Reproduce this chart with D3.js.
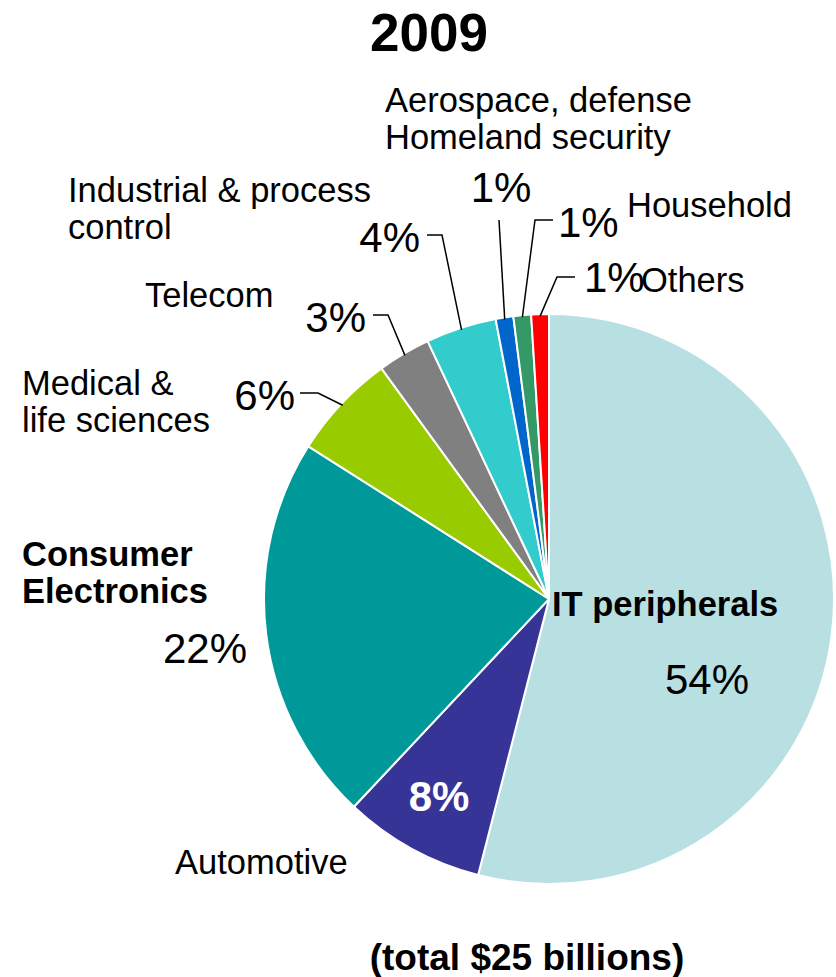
<!DOCTYPE html>
<html>
<head>
<meta charset="utf-8">
<script src="https://cdn.jsdelivr.net/npm/d3@7"></script>
<style>
  html, body { margin: 0; padding: 0; background: #fff; }
  svg { display: block; }
  text { font-family: "Liberation Sans", Arial, sans-serif; fill: #000; }
</style>
</head>
<body>
<svg id="chart" width="836" height="977"></svg>
<script>
// Market segments, clockwise from 12 o'clock
const segments = ["IT peripherals", "Automotive", "Consumer Electronics", "Medical & life sciences",
                  "Telecom", "Industrial & process control", "Aerospace, defense Homeland security",
                  "Household", "Others"];
const shares = [54, 8, 22, 6, 3, 4, 1, 1, 1];
const colors = ["#B8DFE2", "#363497", "#009999", "#99CC00", "#808080", "#33CCCC", "#0066CC", "#339966", "#FF0000"];
const titleText = "2009";
const footerText = "(total $25 billions)";

// Label layout for each segment: name lines, name position, percent position, leader path
const nameLines = [
  ["IT peripherals"], ["Automotive"], ["Consumer", "Electronics"], ["Medical &", "life sciences"],
  ["Telecom"], ["Industrial & process", "control"], ["Aerospace, defense", "Homeland security"],
  ["Household"], ["Others"]
];
const nameBold = [true, false, true, false, false, false, false, false, false];
const namePos = [[552, 616], [175, 874], [22, 566], [22, 395], [145, 307], [68, 202], [385, 112], [627, 217], [641, 292]];
const pctPos = [[707, 694, "middle"], [439, 811, "middle"], [205, 663, "middle"], [295, 410, "end"],
                [366, 332, "end"], [420, 252, "end"], [501, 202, "middle"], [558, 237, "start"], [584, 292, "start"]];
const pctStyle = ["plain", "boldWhite", "plain", "plain", "plain", "plain", "plain", "plain", "plain"];
// Leader: [tickStart, elbow] (null = no leader)
const leaders = [null, null, null,
  [[300, 393], [318, 393]],
  [[373, 315], [388, 315]],
  [[427, 235], [442, 235]],
  [[499, 220], [499, 220]],
  [[553, 220], [535, 220]],
  [[575, 277], [557, 277]]];

const svg = d3.select("#chart");
const cx = 549, cy = 599, R = 285;

const pie = d3.pie().sort(null).value(d => d.v);
const arcs = pie(shares.map((v, i) => ({ v, i })));
const arc = d3.arc().innerRadius(0).outerRadius(R);

const g = svg.append("g").attr("transform", `translate(${cx},${cy})`);
g.selectAll("path.slice")
  .data(arcs)
  .join("path")
  .attr("class", "slice")
  .attr("d", arc)
  .attr("fill", d => colors[d.data.i])
  .attr("stroke", "#fff")
  .attr("stroke-width", 2)
  .attr("stroke-linejoin", "round");

// Leader lines from label ticks to the slice edge at its mid-angle
const line = d3.line();
arcs.forEach((d, i) => {
  const L = leaders[i];
  if (!L) return;
  const mid = (d.startAngle + d.endAngle) / 2;
  const r = R - 2;
  const end = [cx + r * Math.sin(mid), cy - r * Math.cos(mid)];
  svg.append("path")
    .attr("d", line([L[0], L[1], end]))
    .attr("fill", "none")
    .attr("stroke", "#000")
    .attr("stroke-width", 1.5);
});

// Segment names
nameLines.forEach((lines, i) => {
  const t = svg.append("text")
    .attr("x", namePos[i][0])
    .attr("y", namePos[i][1])
    .attr("font-size", 34.5)
    .attr("font-weight", nameBold[i] ? "bold" : "normal");
  lines.forEach((s, k) => {
    t.append("tspan").attr("x", namePos[i][0]).attr("dy", k === 0 ? 0 : 37).text(s);
  });
});

// Percent labels
shares.forEach((v, i) => {
  const bw = pctStyle[i] === "boldWhite";
  svg.append("text")
    .attr("x", pctPos[i][0])
    .attr("y", pctPos[i][1])
    .attr("text-anchor", pctPos[i][2])
    .attr("font-size", bw ? 42 : 42)
    .attr("font-weight", bw ? "bold" : "normal")
    .style("fill", bw ? "#fff" : "#000")
    .text(v + "%");
});

svg.append("text")
  .attr("x", 429).attr("y", 51)
  .attr("text-anchor", "middle")
  .attr("font-size", 53).attr("font-weight", "bold")
  .text(titleText);

svg.append("text")
  .attr("x", 527).attr("y", 970)
  .attr("text-anchor", "middle")
  .attr("font-size", 37).attr("font-weight", "bold")
  .text(footerText);
</script>
</body>
</html>
